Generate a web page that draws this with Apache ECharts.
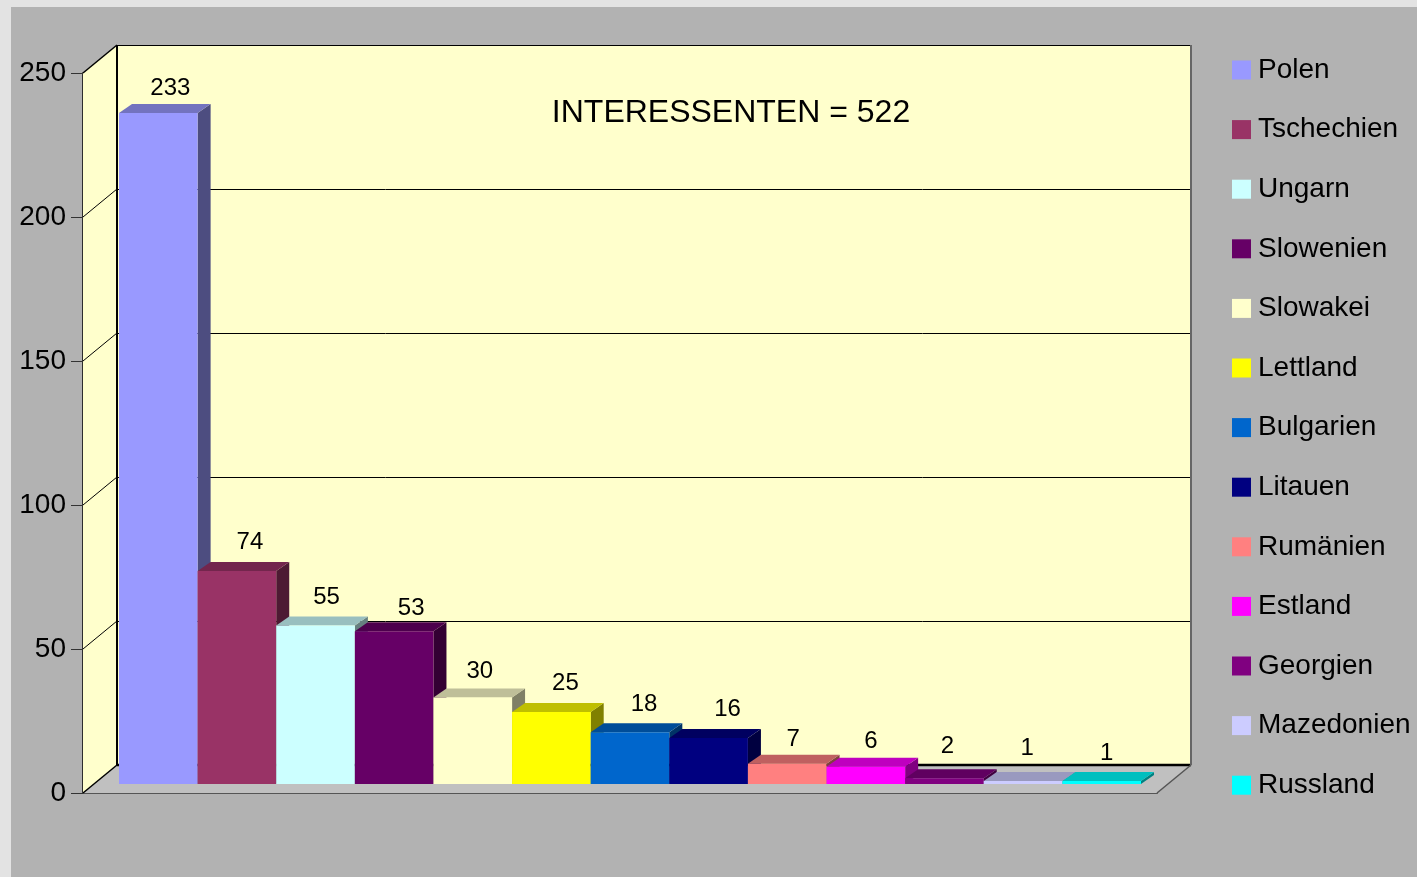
<!DOCTYPE html>
<html>
<head>
<meta charset="utf-8">
<style>html,body{margin:0;padding:0;background:#e3e3e3}#c{width:1417px;height:877px}</style>
<script src="https://cdn.jsdelivr.net/npm/echarts@6/dist/echarts.min.js"></script>
</head>
<body>
<div id="c"></div>
<script>
const categories = ['Polen','Tschechien','Ungarn','Slowenien','Slowakei','Lettland','Bulgarien','Litauen','Rumänien','Estland','Georgien','Mazedonien','Russland'];
const values = [233,74,55,53,30,25,18,16,7,6,2,1,1];
const colors = ['#9999ff','#993366','#ccffff','#660066','#ffffcc','#ffff00','#0066cc','#000080','#ff8080','#ff00ff','#800080','#ccccff','#00ffff'];
const yTicks = [0,50,100,150,200,250];
const titleText = 'INTERESSENTEN = 522';
// hand-placed offset of each value label from the bar's top centre (as in the reference)
const labelShiftX = [12,13,11,17,7,14,14,19,6,5,3,4,5];
const labelShiftY = [-25,-29,-28,-23,-26,-29,-28,-29,-24,-25,-32,-33,-28];

const FONT = '"Liberation Sans", Arial, sans-serif';
const WALL = {dx:34, dy:-28};
const BAR = {dx:13, dy:-9};

function shade(hex, k){
  const n = parseInt(hex.slice(1),16);
  const c = s => Math.round(((n>>s)&255)*k);
  return 'rgb('+c(16)+','+c(8)+','+c(0)+')';
}

const barSeries = categories.map((name,i)=>({
  name, type:'custom', coordinateSystem:'cartesian2d', xAxisIndex:2, yAxisIndex:2, z:5,
  itemStyle:{color:colors[i]},
  data:[[i,values[i]]],
  animation:false,
  renderItem(params,api){
    const cat = api.value(0), val = api.value(1);
    const w = api.size([1,0])[0];
    const base = api.coord([cat,0]), top = api.coord([cat,val]);
    const x0 = base[0]-w/2, x1 = base[0]+w/2, y0 = base[1], y1 = top[1];
    const col = colors[cat];
    return {type:'group',children:[
      {type:'polygon',shape:{points:[[x1,y0],[x1,y1],[x1+BAR.dx,y1+BAR.dy],[x1+BAR.dx,y0+BAR.dy]]},style:{fill:shade(col,0.5)}},
      {type:'polygon',shape:{points:[[x0,y1],[x1,y1],[x1+BAR.dx,y1+BAR.dy],[x0+BAR.dx,y1+BAR.dy]]},style:{fill:shade(col,0.75)}},
      {type:'rect',shape:{x:x0,y:y1,width:w,height:y0-y1},style:{fill:col}},
      {type:'text',z2:100,style:{text:String(val),x:base[0]+labelShiftX[cat],y:y1+labelShiftY[cat],
        align:'center',verticalAlign:'middle',font:'24px '+FONT,fill:'#000'}}
    ]};
  }
}));

const option = {
  animation:false,
  backgroundColor:'#e3e3e3',
  textStyle:{fontFamily:FONT},
  title:{text:titleText,left:726,top:108,textAlign:'center',textVerticalAlign:'middle',
    textStyle:{fontFamily:FONT,fontSize:32,fontWeight:'normal',color:'#000'}},
  graphic:[{type:'rect',z:-1,shape:{x:11,y:7,width:1406,height:870},style:{fill:'#b2b2b2'}}],
  legend:{orient:'vertical',left:1227,top:51,icon:'rect',itemWidth:19,itemHeight:19,itemGap:31.6,
    selectedMode:false,data:categories,
    textStyle:{fontFamily:FONT,fontSize:28,color:'#000',padding:[0,0,0,2]}},
  grid:[
    {left:117,top:45.5,width:1074,height:720,show:true,backgroundColor:'#ffffcc',borderWidth:0},
    {left:83,top:73,width:1074,height:720},
    {left:119,top:64,width:1022,height:720}
  ],
  xAxis:[
    {gridIndex:0,type:'value',min:0,max:1,show:false},
    {gridIndex:1,type:'value',min:0,max:1,axisLabel:{show:false},axisTick:{show:false},splitLine:{show:false},
      axisLine:{show:true,lineStyle:{color:'#555',width:2}}},
    {gridIndex:2,type:'category',data:categories,show:false}
  ],
  yAxis:[
    {gridIndex:0,type:'value',min:0,max:250,interval:50,axisLabel:{show:false},axisTick:{show:false},axisLine:{show:false},
      splitLine:{show:true,lineStyle:{color:'#000',width:1}}},
    {gridIndex:1,type:'value',min:0,max:250,interval:50,splitLine:{show:false},
      axisLine:{show:true,lineStyle:{color:'#000',width:1.5}},
      axisTick:{show:true,length:12,lineStyle:{color:'#333',width:1}},
      axisLabel:{fontFamily:FONT,fontSize:28,color:'#000',margin:17}},
    {gridIndex:2,type:'value',min:0,max:250,interval:50,show:false}
  ],
  series:[
    {type:'custom',coordinateSystem:'cartesian2d',xAxisIndex:1,yAxisIndex:1,z:1,data:[[0,0]],silent:true,
      renderItem(params,api){
        const o = api.coord([0,0]), t = api.coord([0,250]), r = api.coord([1,0]);
        const d = p => [p[0]+WALL.dx,p[1]+WALL.dy];
        return {type:'group',children:[
          {type:'polygon',shape:{points:[o,t,d(t),d(o)]},style:{fill:'#ffffcc'}},
          {type:'polygon',shape:{points:[o,r,d(r),d(o)]},style:{fill:'#c0c0c0'}},
          {type:'line',shape:{x1:d(t)[0],y1:d(t)[1]+0.5,x2:d(r)[0],y2:d(t)[1]+0.5},style:{stroke:'#000',lineWidth:1.2}},
          {type:'line',shape:{x1:d(o)[0],y1:d(o)[1],x2:d(r)[0],y2:d(r)[1]},style:{stroke:'#000',lineWidth:2.5}},
          {type:'line',shape:{x1:d(o)[0],y1:d(o)[1],x2:d(t)[0],y2:d(t)[1]},style:{stroke:'#000',lineWidth:2}},
          {type:'line',shape:{x1:d(r)[0],y1:d(r)[1]-720,x2:d(r)[0],y2:d(r)[1]},style:{stroke:'#666',lineWidth:2}},
          {type:'line',shape:{x1:r[0],y1:r[1],x2:d(r)[0],y2:d(r)[1]},style:{stroke:'#555',lineWidth:1.5}}
        ]};
      }},
    {type:'custom',coordinateSystem:'cartesian2d',xAxisIndex:1,yAxisIndex:1,z:2,silent:true,
      data:yTicks.map(v=>[0,v]),
      renderItem(params,api){
        const p = api.coord([0,api.value(1)]);
        const v = api.value(1);
        return {type:'line',shape:{x1:p[0],y1:p[1],x2:p[0]+WALL.dx,y2:p[1]+WALL.dy},
          style:{stroke:'#000',lineWidth:(v===0||v===250)?1.5:1}};
      }},
    ...barSeries
  ]
};
echarts.init(document.getElementById('c')).setOption(option);
</script>
</body>
</html>
